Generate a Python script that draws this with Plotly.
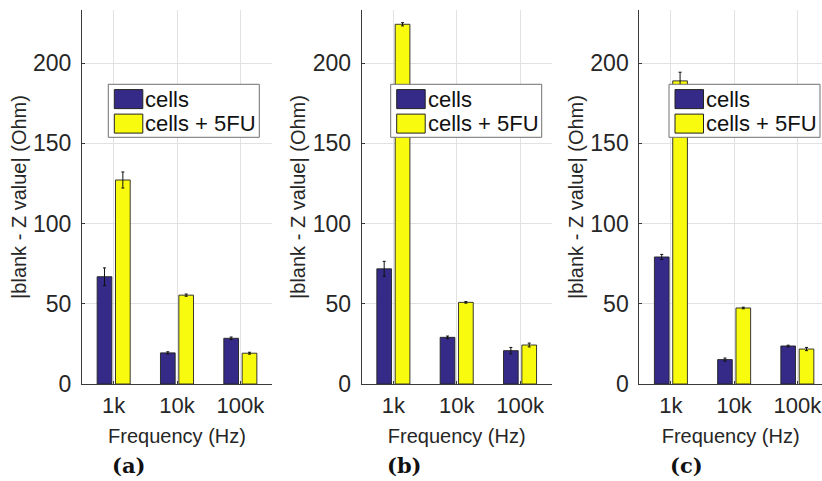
import plotly.graph_objects as go

# Impedance difference |blank - Z| at three frequencies, three experiments
freqs = ["1k", "10k", "100k"]
series_names = ["cells", "cells + 5FU"]

cells_a = [66.9, 19.4, 28.5]
cells_a_err = [5.5, 0.7, 0.8]
fu_a = [127.2, 55.4, 19.2]
fu_a_err = [5.0, 0.7, 0.6]

cells_b = [71.8, 29.1, 20.8]
cells_b_err = [4.7, 0.8, 2.0]
fu_b = [224.3, 50.9, 24.3]
fu_b_err = [1.0, 0.5, 1.2]

cells_c = [79.2, 15.2, 23.7]
cells_c_err = [1.6, 1.0, 0.5]
fu_c = [189.0, 47.4, 21.8]
fu_c_err = [5.4, 0.5, 1.0]

panel_labels = ["a", "b", "c"]
y_ticks = [0, 50, 100, 150, 200]

W, H = 822, 481
BLUE = "#352a87"
YELLOW = "#f9fb0e"
AXIS = "#3a3a3a"
GRID = "#e2e2e2"
FONT = "Liberation Sans, Arial, sans-serif"


def px(x):
    return x / W


def py(y):
    return 1 - y / H


panels = [
    (cells_a, cells_a_err, fu_a, fu_a_err),
    (cells_b, cells_b_err, fu_b, fu_b_err),
    (cells_c, cells_c_err, fu_c, fu_c_err),
]
# left / right edge (pixels) of each axes box, and visible category range
axis_left = [82.0, 361.7, 639.3]
axis_right = [272.0, 551.7, 822.0]
x_upper = [2.5, 2.5, 2.39]
legend_left = [108.3, 390.7, 669.0]
caption_x = [128, 404, 686]

fig = go.Figure()
shapes = []
annotations = []

for i, (c, ce, f, fe) in enumerate(panels):
    xa = "x" if i == 0 else f"x{i + 1}"
    ya = "y" if i == 0 else f"y{i + 1}"
    for vals, errs, color, name in [(c, ce, BLUE, series_names[0]),
                                    (f, fe, YELLOW, series_names[1])]:
        fig.add_trace(go.Bar(
            x=freqs, y=vals, name=name, xaxis=xa, yaxis=ya,
            marker=dict(color=color, line=dict(color="#222222", width=0.9)),
            error_y=dict(type="data", array=errs, visible=True,
                         color="#111111", thickness=1, width=1.5),
            showlegend=False,
        ))

    key = "" if i == 0 else str(i + 1)
    fig.layout["xaxis" + key] = dict(
        domain=[px(axis_left[i]), px(axis_right[i])],
        anchor=ya, type="category", range=[-0.5, x_upper[i]],
        automargin=False,
        showline=True, linecolor=AXIS, linewidth=1, mirror=False,
        ticks="inside", ticklen=3, tickcolor=AXIS,
        showgrid=True, gridcolor=GRID, gridwidth=1,
        tickfont=dict(family=FONT, size=22, color="#262626"),
        ticklabelstandoff=2,
        title=dict(text="Frequency (Hz)", standoff=11,
                   font=dict(family=FONT, size=20, color="#262626")),
        fixedrange=True,
    )
    fig.layout["yaxis" + key] = dict(
        domain=[py(384), py(10)],
        anchor=xa, range=[0, 233.2], tickvals=y_ticks,
        automargin=False,
        showline=True, linecolor=AXIS, linewidth=1, mirror=False,
        ticks="inside", ticklen=3, tickcolor=AXIS,
        showgrid=True, gridcolor=GRID, gridwidth=1, zeroline=False,
        tickfont=dict(family=FONT, size=23, color="#262626"),
        ticklabelstandoff=5,
        title=dict(text="|blank - Z value| (Ohm)", standoff=1,
                   font=dict(family=FONT, size=20, color="#262626")),
        fixedrange=True,
    )

    # legend box with colour swatches
    lx, ly = legend_left[i], 84.3
    shapes.append(dict(type="rect", xref="paper", yref="paper",
                       x0=px(lx), x1=px(lx + 151), y0=py(ly + 53), y1=py(ly),
                       fillcolor="white", line=dict(color="#707070", width=1),
                       layer="above"))
    for k, (color, name) in enumerate([(BLUE, series_names[0]),
                                       (YELLOW, series_names[1])]):
        top = ly + 5.3 + k * 24.5
        shapes.append(dict(type="rect", xref="paper", yref="paper",
                           x0=px(lx + 6), x1=px(lx + 34.5),
                           y0=py(top + 19), y1=py(top),
                           fillcolor=color, line=dict(color="#222222", width=1),
                           layer="above"))
        annotations.append(dict(
            text=name, xref="paper", yref="paper",
            x=px(lx + 35), y=py(top + 9.5), xanchor="left", yanchor="middle",
            showarrow=False,
            font=dict(family=FONT, size=22, color="#111111")))

    annotations.append(dict(
        text=f"<b>({panel_labels[i]})</b>", xref="paper", yref="paper",
        x=px(caption_x[i]), y=py(465), xanchor="center", yanchor="middle",
        showarrow=False,
        font=dict(family="DejaVu Serif, Liberation Serif, serif", size=21,
                  color="#111111")))

fig.update_layout(
    width=W, height=H,
    margin=dict(l=0, r=0, t=0, b=0),
    paper_bgcolor="white", plot_bgcolor="white",
    barmode="group", bargap=0.42, bargroupgap=0.2,
    shapes=shapes, annotations=annotations,
    showlegend=False,
)

fig.write_html("out.html", config={"displayModeBar": False})
